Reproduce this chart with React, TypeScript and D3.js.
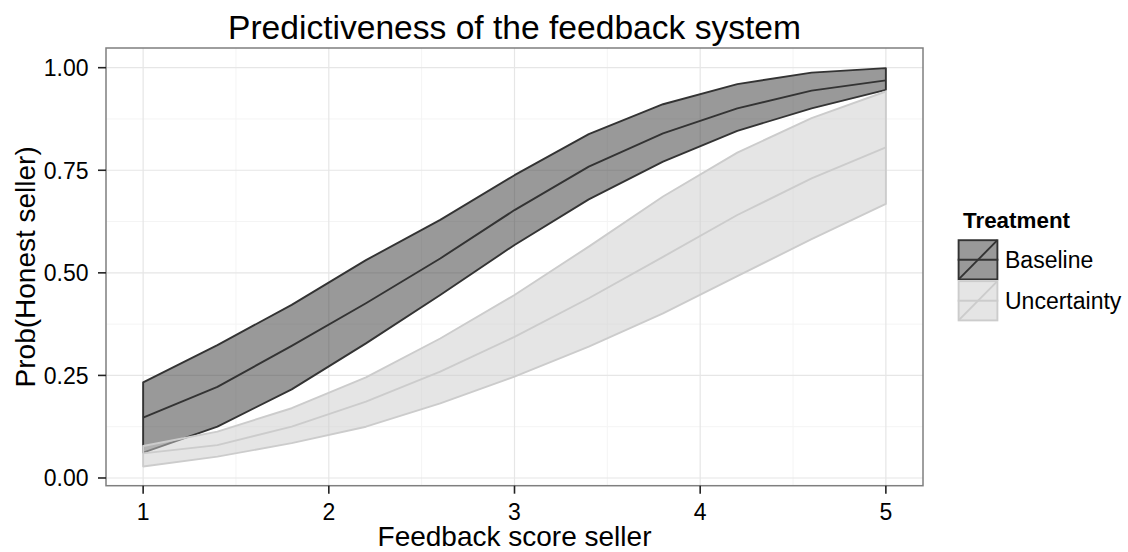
import React from "react";
import * as d3 from "d3";

const feedbackScores = [1, 1.4, 1.8, 2.2, 2.6, 3.0, 3.4, 3.8, 4.2, 4.6, 5.0];
const baselineMean = [0.147, 0.222, 0.322, 0.426, 0.535, 0.653, 0.759, 0.84, 0.901, 0.944, 0.969];
const baselineLower = [0.062, 0.125, 0.216, 0.328, 0.446, 0.568, 0.679, 0.771, 0.846, 0.901, 0.946];
const baselineUpper = [0.233, 0.324, 0.422, 0.531, 0.629, 0.738, 0.838, 0.911, 0.96, 0.988, 0.999];
const uncertaintyMean = [0.06, 0.08, 0.125, 0.186, 0.259, 0.344, 0.438, 0.539, 0.641, 0.73, 0.806];
const uncertaintyLower = [0.028, 0.052, 0.085, 0.125, 0.182, 0.247, 0.32, 0.401, 0.492, 0.582, 0.668];
const uncertaintyUpper = [0.078, 0.113, 0.17, 0.245, 0.34, 0.446, 0.564, 0.686, 0.793, 0.877, 0.942];

const xTicks = [1, 2, 3, 4, 5];
const xMinor = [1.5, 2.5, 3.5, 4.5];
const yTicks = [0, 0.25, 0.5, 0.75, 1.0];
const yMinor = [0.125, 0.375, 0.625, 0.875];
const yTickLabels = ["0.00", "0.25", "0.50", "0.75", "1.00"];

const treatments = ["Baseline", "Uncertainty"];
const lineColors = ["#333333", "#cccccc"];

const FONT = "'Liberation Sans', Arial, Helvetica, sans-serif";

export default function App() {
  const panel = { left: 106, right: 923, top: 48, bottom: 485.7 };
  const x = d3.scaleLinear().domain([0.8, 5.2]).range([panel.left, panel.right]);
  const y = d3.scaleLinear().domain([-0.0188, 1.048]).range([panel.bottom, panel.top]);

  const series = [
    { name: treatments[0], mean: baselineMean, lower: baselineLower, upper: baselineUpper, color: lineColors[0] },
    { name: treatments[1], mean: uncertaintyMean, lower: uncertaintyLower, upper: uncertaintyUpper, color: lineColors[1] },
  ];

  const line = d3
    .line<[number, number]>()
    .x((d) => x(d[0]))
    .y((d) => y(d[1]));

  const ribbonOutline = (s: typeof series[0]) => {
    const pts: [number, number][] = [];
    feedbackScores.forEach((f, i) => pts.push([f, s.upper[i]]));
    for (let i = feedbackScores.length - 1; i >= 0; i--) pts.push([feedbackScores[i], s.lower[i]]);
    return line(pts) + "Z";
  };
  const meanPath = (s: typeof series[0]) =>
    line(feedbackScores.map((f, i) => [f, s.mean[i]] as [number, number]));

  const legendX = 957.7;
  const keyW = 40.6;
  const keyH = 41;
  const keyTop = 239.3;
  const lw = 1.9;

  return (
    <svg
      width={1128}
      height={552}
      style={{ position: "absolute", left: 0, top: 0, background: "#fff" }}
      fontFamily={FONT}
    >
      <rect x={0} y={0} width={1128} height={552} fill="#fff" />
      {/* grid */}
      {xMinor.map((v) => (
        <line key={"xm" + v} x1={x(v)} x2={x(v)} y1={panel.top} y2={panel.bottom} stroke="#f4f4f4" strokeWidth={1} />
      ))}
      {yMinor.map((v) => (
        <line key={"ym" + v} x1={panel.left} x2={panel.right} y1={y(v)} y2={y(v)} stroke="#f4f4f4" strokeWidth={1} />
      ))}
      {xTicks.map((v) => (
        <line key={"xM" + v} x1={x(v)} x2={x(v)} y1={panel.top} y2={panel.bottom} stroke="#e6e6e6" strokeWidth={1.2} />
      ))}
      {yTicks.map((v) => (
        <line key={"yM" + v} x1={panel.left} x2={panel.right} y1={y(v)} y2={y(v)} stroke="#e6e6e6" strokeWidth={1.2} />
      ))}

      {/* ribbons and lines */}
      {series.map((s) => (
        <g key={s.name}>
          <path d={ribbonOutline(s)} fill={s.color} fillOpacity={0.5} stroke={s.color} strokeWidth={lw} strokeLinejoin="round" />
          <path d={meanPath(s) || ""} fill="none" stroke={s.color} strokeWidth={lw} strokeLinejoin="round" />
        </g>
      ))}

      {/* panel border */}
      <rect
        x={panel.left}
        y={panel.top}
        width={panel.right - panel.left}
        height={panel.bottom - panel.top}
        fill="none"
        stroke="#7f7f7f"
        strokeWidth={1.5}
      />

      {/* y axis */}
      {yTicks.map((v, i) => (
        <g key={"yt" + v}>
          <line x1={panel.left - 8} x2={panel.left} y1={y(v)} y2={y(v)} stroke="#222" strokeWidth={1.6} />
          <text x={88.5} y={y(v)} dy="0.36em" textAnchor="end" fontSize={23} fill="#000">
            {yTickLabels[i]}
          </text>
        </g>
      ))}
      {/* x axis */}
      {xTicks.map((v) => (
        <g key={"xt" + v}>
          <line x1={x(v)} x2={x(v)} y1={panel.bottom} y2={panel.bottom + 8} stroke="#222" strokeWidth={1.6} />
          <text x={x(v)} y={520} textAnchor="middle" fontSize={23} fill="#000">
            {v}
          </text>
        </g>
      ))}

      {/* titles */}
      <text x={514.5} y={39} textAnchor="middle" fontSize={33.6} fill="#000">
        Predictiveness of the feedback system
      </text>
      <text x={514.5} y={546} textAnchor="middle" fontSize={28} fill="#000">
        Feedback score seller
      </text>
      <text
        transform={`translate(35,${(panel.top + panel.bottom) / 2}) rotate(-90)`}
        textAnchor="middle"
        fontSize={28}
        fill="#000"
      >
        Prob(Honest seller)
      </text>

      {/* legend */}
      <text x={963} y={228} fontSize={22.4} fontWeight="bold" fill="#000">
        Treatment
      </text>
      {series.map((s, i) => {
        const top = keyTop + i * keyH;
        return (
          <g key={"lg" + s.name}>
            <rect x={legendX} y={top} width={keyW} height={keyH} fill="#fff" />
            <rect
              x={legendX + 0.9}
              y={top + 0.9}
              width={keyW - 1.8}
              height={keyH - 1.8}
              fill={s.color}
              fillOpacity={0.5}
              stroke={s.color}
              strokeWidth={lw}
            />
            <line x1={legendX + 0.9} x2={legendX + keyW - 0.9} y1={top + keyH - 0.9} y2={top + 0.9} stroke={s.color} strokeWidth={lw} />
            <line x1={legendX} x2={legendX + keyW} y1={top + keyH / 2} y2={top + keyH / 2} stroke={s.color} strokeWidth={lw} />
            <text x={1005} y={top + keyH / 2} dy="0.36em" fontSize={23} fill="#000">
              {s.name}
            </text>
          </g>
        );
      })}
    </svg>
  );
}
